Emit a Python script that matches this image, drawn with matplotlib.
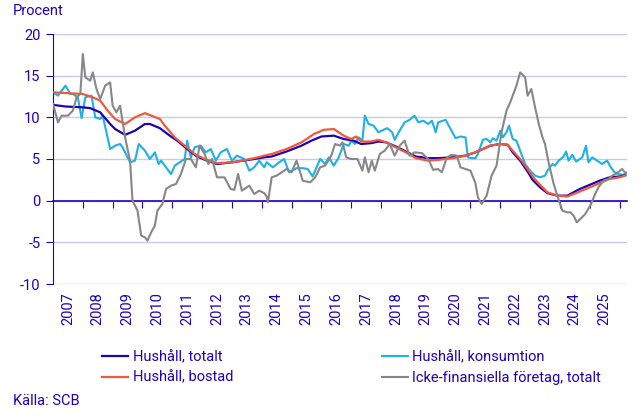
import matplotlib
matplotlib.use("Agg")
import matplotlib.pyplot as plt

plt.rcParams['font.family'] = ['Roboto', 'DejaVu Sans']
plt.rcParams['axes.unicode_minus'] = False

# months counted from Jan 2007
tot_m = [0, 5, 12, 15, 19, 23, 25, 29, 33, 37, 39, 43, 47, 50, 54, 58, 62, 66, 72, 81,
         85, 88, 94, 100, 104, 108, 113, 117, 121, 124, 128, 131, 134, 138, 142, 146, 151, 155, 161, 166,
         170, 176, 180, 183, 185, 188, 191, 193, 196, 199, 203, 207, 212, 216, 220, 224, 228, 231]
tot_v = [11.5, 11.3, 11.2, 11.1, 10.6, 9.2, 8.6, 7.9, 8.4, 9.2, 9.2, 8.7, 7.8, 7.2, 6.2, 5.3, 4.8, 4.4, 4.6, 5.0,
         5.2, 5.3, 5.9, 6.6, 7.2, 7.7, 7.8, 7.4, 7.2, 6.8, 6.9, 7.1, 7.0, 6.5, 5.9, 5.3, 5.1, 5.1, 5.2, 5.4,
         5.8, 6.6, 6.8, 6.7, 5.8, 4.8, 3.5, 2.5, 1.6, 0.9, 0.6, 0.6, 1.4, 1.9, 2.4, 2.8, 2.9, 3.1]

bost_m = [0, 12, 16, 19, 22, 25, 29, 33, 37, 43, 45, 49, 53, 57, 61, 66, 72, 76, 81, 85,
          88, 94, 100, 105, 109, 113, 117, 120, 122, 124, 128, 131, 134, 138, 142, 146, 151, 155, 161, 166,
          170, 176, 180, 183, 185, 188, 191, 193, 196, 199, 203, 207, 212, 216, 220, 224, 228, 231]
bost_v = [13.0, 12.8, 12.4, 12.0, 10.8, 9.8, 9.2, 10.0, 10.5, 9.8, 9.0, 7.6, 6.6, 5.6, 5.0, 4.5, 4.6, 4.8, 5.1, 5.4,
          5.6, 6.2, 7.0, 8.0, 8.5, 8.6, 7.8, 7.4, 7.7, 7.1, 7.1, 7.3, 7.0, 6.4, 5.8, 5.1, 4.8, 4.9, 5.1, 5.4,
          5.8, 6.6, 6.8, 6.7, 6.0, 5.0, 3.8, 2.9, 1.9, 1.0, 0.6, 0.5, 1.1, 1.6, 2.1, 2.6, 2.8, 3.1]

kons_m = [0, 2, 5, 7, 8, 10, 11.5, 13, 15.5, 17,
          19, 20, 23, 25, 27, 28, 31, 33, 34.5, 37,
          39, 41, 42.5, 43.5, 45.5, 47.5, 49, 51, 53, 54,
          55.5, 57, 59.5, 61.5, 63.5, 65.5, 67.5, 70, 72, 74,
          77, 79, 81, 83, 85, 86, 88.5, 91, 93, 95,
          98, 100.5, 102.5, 104.5, 107.5, 109.5, 111, 113, 115, 117,
          119, 120, 121.5, 123, 124.5, 125.5, 127, 129, 131, 133,
          134.5, 136.5, 137.5, 139.5, 141.5, 143.5, 145.5, 147, 149, 151,
          152.5, 154, 155, 158, 160, 162, 164, 166, 167, 168.5,
          170, 171, 173, 174.5, 176, 177, 178.5, 180, 181, 182.5,
          183.5, 185, 186.5, 188, 190, 192, 194, 196, 198, 199,
          201, 202, 203.5, 205.5, 206.5, 207.5, 209, 210.5, 212, 213,
          214.5, 215.5, 217, 219, 221, 223, 224.5, 226, 227.5, 229.5,
          231]
kons_v = [13.0, 12.6, 13.8, 12.8, 12.8, 12.4, 9.9, 12.4, 12.6, 10.0,
          9.8, 10.2, 6.2, 6.6, 6.8, 6.4, 4.6, 4.8, 6.8, 6.0,
          5.0, 5.8, 4.4, 4.8, 4.0, 3.2, 4.2, 4.6, 5.0, 7.2,
          5.2, 6.4, 6.6, 5.8, 6.2, 4.8, 5.8, 6.2, 4.8, 5.4,
          5.0, 3.6, 4.0, 4.8, 4.0, 4.6, 4.0, 4.6, 5.0, 3.4,
          3.9, 3.9, 3.8, 2.9, 5.0, 4.4, 5.2, 4.2, 5.2, 6.8,
          6.6, 7.2, 6.8, 7.6, 7.2, 10.2, 9.2, 9.0, 8.2, 8.5,
          8.7, 8.2, 7.3, 8.4, 9.4, 9.7, 10.2, 9.4, 9.6, 9.2,
          9.6, 8.2, 9.4, 9.7, 8.6, 7.5, 7.7, 7.6, 5.2, 5.1,
          5.1, 5.6, 7.3, 7.4, 7.0, 7.5, 7.2, 8.4, 7.6, 8.2,
          9.0, 7.4, 7.2, 6.0, 4.4, 3.6, 3.0, 2.8, 3.0, 3.6,
          4.4, 4.2, 4.8, 5.3, 5.9, 4.8, 5.5, 4.7, 5.0, 5.2,
          6.6, 4.6, 5.2, 4.8, 4.4, 4.8, 4.0, 3.4, 3.2, 3.1,
          3.4]

ftg_m = [0, 2, 3.5, 6, 8, 9.5, 11, 12, 13, 15,
         16, 17.5, 19, 21, 23, 24, 25.5, 27, 29, 31,
         32, 34, 35.5, 37, 38, 39.5, 41, 42, 44, 45.5,
         47.5, 49.5, 51.5, 53.5, 55.5, 57.5, 59, 61, 62.5, 64,
         66, 69, 71.5, 73, 74.5, 76, 79, 81, 83, 85,
         86, 86.5, 88, 90, 92, 94, 96, 98, 100.5, 103.5,
         105.5, 107.5, 109.5, 112, 113.5, 115.5, 116.5, 118, 120, 122.5,
         124.5, 125.5, 127, 128.3, 129.5, 131.5, 133.5, 135.5, 137.5, 139.5,
         141.5, 143.5, 145.5, 148.5, 151, 153, 155, 156.5, 158.5, 160.5,
         162.5, 164, 166, 168, 170, 171, 172.5, 174.5, 176.5, 178.5,
         180.5, 182.5, 184, 185.5, 186.5, 188, 190, 191, 192.5, 194,
         195.5, 197, 198, 199.5, 201.5, 203.5, 205, 207, 208.2, 209.5,
         210.8, 212.2, 214.2, 216.2, 218.2, 219.5, 221.5, 223.5, 225, 227,
         229, 230.7]
ftg_v = [11.6, 9.4, 10.2, 10.2, 10.8, 12.4, 12.8, 17.6, 14.8, 14.4,
         15.4, 13.4, 12.2, 13.8, 14.2, 11.4, 10.6, 11.4, 7.6, 4.8,
         0.0, -1.2, -4.2, -4.4, -4.8, -3.8, -3.0, -1.2, -0.4, 1.4,
         1.8, 2.0, 3.2, 5.0, 5.0, 4.0, 6.6, 5.6, 4.4, 5.0,
         2.8, 2.8, 1.4, 1.3, 3.2, 1.2, 1.8, 0.8, 1.2, 0.9,
         0.5, -0.2, 2.8, 3.0, 3.4, 3.8, 3.4, 4.8, 2.4, 2.2,
         2.8, 4.0, 4.2, 5.4, 6.8, 6.6, 7.0, 5.2, 5.0, 5.0,
         3.6, 5.2, 3.4, 4.8, 3.6, 5.6, 6.0, 6.8, 5.4, 6.6,
         7.2, 5.4, 5.8, 5.7, 5.0, 3.7, 3.8, 3.4, 5.2, 5.5,
         5.4, 4.0, 3.8, 3.6, 2.1, 0.4, -0.4, 0.6, 3.0, 4.2,
         8.2, 10.8, 11.8, 13.0, 13.8, 15.4, 14.8, 12.6, 13.4, 11.2,
         9.2, 7.6, 6.8, 4.5, 2.0, 0.1, -1.2, -1.4, -1.4, -1.8,
         -2.6, -2.2, -1.6, -0.6, 0.8, 1.6, 2.4, 2.6, 3.0, 3.3,
         3.8, 3.2]

years = list(range(2007, 2026))
labels = ['Hushåll, totalt', 'Hushåll, bostad', 'Hushåll, konsumtion',
          'Icke-finansiella företag, totalt']

BLUE = '#1e00be'
GRID = '#c9c9ef'


def to_year(months):
    return [2007 + m / 12 for m in months]


fig = plt.figure(figsize=(6.43, 4.16), dpi=100)
ax = fig.add_axes([53 / 643, 1 - 284 / 416, 574 / 643, 250 / 416])

l_tot, = ax.plot(to_year(tot_m), tot_v, color='#2200b4', lw=1.6, zorder=3)
l_bost, = ax.plot(to_year(bost_m), bost_v, color='#f05a3c', lw=1.6, zorder=4)
l_kons, = ax.plot(to_year(kons_m), kons_v, color='#1eb0e6', lw=1.5, zorder=2)
l_ftg, = ax.plot(to_year(ftg_m), ftg_v, color='#878787', lw=1.5, zorder=5)

ax.set_ylim(-10, 20)
ax.set_xlim(2007, 2007 + 231 / 12)
ax.set_yticks(range(-10, 25, 5))
ax.yaxis.grid(True, color=GRID, lw=1)
ax.set_axisbelow(True)

for s in ['top', 'right']:
    ax.spines[s].set_visible(False)
ax.spines['left'].set_color(BLUE)
ax.spines['bottom'].set_position(('data', 0))
ax.spines['bottom'].set_color(BLUE)
ax.spines['bottom'].set_linewidth(1.2)

ax.set_xticks(range(2008, 2027))
ax.tick_params(axis='x', length=5, color=BLUE, labelbottom=False)
ax.tick_params(axis='y', length=5, color=BLUE, labelcolor=BLUE, labelsize=10.5, pad=4)

sec = ax.secondary_xaxis(0)
sec.set_xticks([y + 0.5 for y in years], labels=[str(y) for y in years])
sec.tick_params(length=0, rotation=90, labelcolor=BLUE, labelsize=10.5, pad=6)
sec.spines['bottom'].set_visible(False)

fig.text(13 / 643, 1 - 11 / 416, 'Procent', color=BLUE, fontsize=10.5, va='center')
fig.text(13 / 643, 1 - 401 / 416, 'Källa: SCB', color=BLUE, fontsize=10.5, va='center')

leg = fig.legend([l_tot, l_bost, l_kons, l_ftg], labels, ncol=2, frameon=False,
                 loc='upper left', bbox_to_anchor=(89 / 643, 1 - 337 / 416),
                 fontsize=10.5, handlelength=1.8, handletextpad=0.3,
                 columnspacing=10.2, labelspacing=0.45)
for t in leg.get_texts():
    t.set_color(BLUE)

fig.savefig('out.png', dpi=100)
